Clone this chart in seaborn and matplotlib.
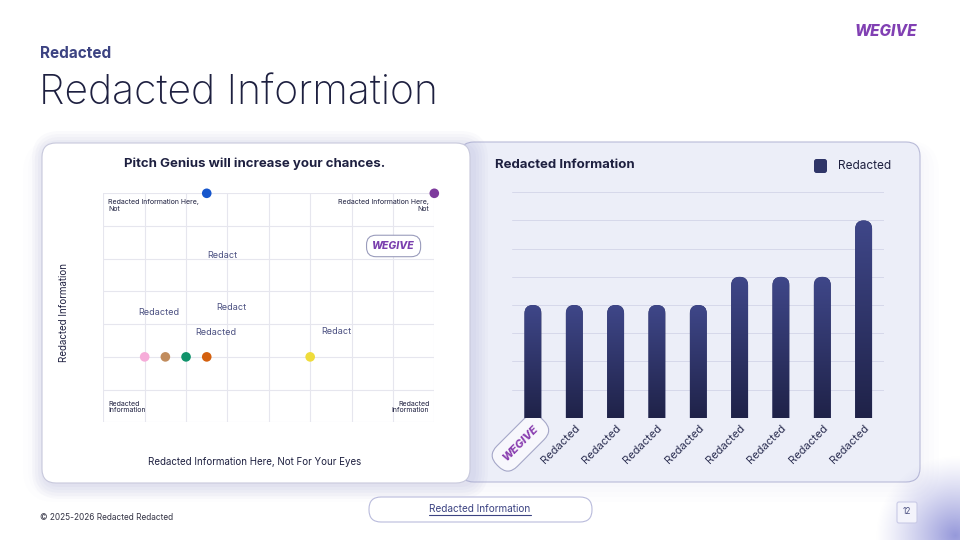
import numpy as np
import pandas as pd
import matplotlib
matplotlib.use("Agg")
import matplotlib.pyplot as plt
import seaborn as sns
from matplotlib.patches import FancyBboxPatch
from matplotlib.colors import LinearSegmentedColormap

# Data
scatter_x = [2.5, 8, 1, 1.5, 2, 2.5, 5]
scatter_y = [7, 7, 2, 2, 2, 2, 2]
scatter_colors = ['#1656cc', '#7d3a9c', '#f6acd9', '#c18c5d', '#10936b', '#d4600e', '#efdc3b']

note_text = ['Redact', 'Redacted', 'Redact', 'Redacted', 'Redact']
note_x = [2.87, 1.33, 3.09, 2.73, 5.63]
note_y = [5.1, 3.35, 3.5, 2.75, 2.78]

corner_text = ['Redacted Information Here,\nNot', 'Redacted Information Here,\nNot',
               'Redacted\nInformation', 'Redacted\nInformation']

bar_values = [4, 4, 4, 4, 4, 5, 5, 5, 7]
bar_labels = ['WEGIVE'] + ['Redacted'] * 8

W, H = 960, 540

sns.set_theme(style="white")
plt.rcParams['font.family'] = ['Inter', 'DejaVu Sans']
plt.rcParams['image.composite_image'] = False

fig = plt.figure(figsize=(9.6, 5.4), dpi=100, facecolor='white')

# background canvas in pixel units
bg = fig.add_axes([0, 0, 1, 1], zorder=0)
bg.set_xlim(0, W)
bg.set_ylim(H, 0)
bg.axis('off')


def rbox(x0, y0, x1, y1, r, **kw):
    p = FancyBboxPatch((x0, y0), x1 - x0, y1 - y0,
                       boxstyle=f"round,pad=0,rounding_size={r}", **kw)
    bg.add_patch(p)
    return p


# soft haze around cards
for i in range(4):
    d = 4 + i * 5
    rbox(42 - d, 150 - d * 0.5, 920 + d, 483 + d, 14 + d, facecolor='#d4d6f2',
         edgecolor='none', alpha=0.035)

# right card
rbox(460, 142, 920, 482, 14, facecolor='#eceef8', edgecolor='#b9bbd8', lw=0.8)
# left card shadow + card
for i in range(5):
    d = 2 + i * 3
    rbox(42 - d + 4, 143 - d + 2, 470 + d + 4, 483 + d + 2, 14 + d,
         facecolor='#9fa2d0', edgecolor='none', alpha=0.05)
rbox(42, 143, 470, 483, 14, facecolor='white', edgecolor='#c8c9dc', lw=0.8)

# purple blob bottom right
yy, xx = np.mgrid[0:200, 0:200]
dist = np.sqrt((xx - 115) ** 2 + (yy - 125) ** 2) / 80
alpha = np.clip(1 - dist, 0, 1) ** 1.2 * 0.9
blob = np.zeros((200, 200, 4))
blob[..., :3] = matplotlib.colors.to_rgb('#8a8dd6')
blob[..., 3] = alpha
bg.imshow(blob, extent=[840, 1040, 610, 410], zorder=1, interpolation='bilinear')
bg.set_xlim(0, W)
bg.set_ylim(H, 0)
bg.set_aspect('auto')

# header
bg.text(40, 53, 'Redacted', fontsize=11, fontweight='bold', color='#3c4382', va='center')
bg.text(39, 94, 'Redacted Information', fontsize=29.5, fontweight='light',
        color='#1e2040', va='center')
bg.text(886, 31, 'WEGIVE', fontsize=11, fontweight='heavy', fontstyle='italic',
        color='#8140b3', va='center', ha='center')

# footer
bg.text(40, 518, '© 2025-2026 Redacted Redacted', fontsize=6, color='#333344', va='center')
rbox(369, 497, 592, 522, 12, facecolor='white', edgecolor='#b9bbdc', lw=0.8)
bg.text(480, 509, 'Redacted Information', fontsize=7.2, color='#3c4382', va='center', ha='center')
bg.plot([429, 531], [515, 515], color='#3c4382', lw=0.8)
rbox(897, 502, 917, 523, 2, facecolor='#f3f3fb', edgecolor='#c9cae6', lw=0.8, zorder=2)
bg.text(907, 512, '12', fontsize=6, color='#4a4f80', va='center', ha='center', zorder=3)

# left card texts
bg.text(255, 164, 'Pitch Genius will increase your chances.', fontsize=9.5,
        fontweight='bold', color='#1e2040', va='center', ha='center')
bg.text(64, 312, 'Redacted Information', fontsize=7, rotation=90, color='#1e2040',
        va='center', ha='center')
bg.text(255, 462, 'Redacted Information Here, Not For Your Eyes', fontsize=7,
        color='#1e2040', va='center', ha='center')

# right card texts
bg.text(495, 165, 'Redacted Information', fontsize=9.5, fontweight='bold',
        color='#1e2040', va='center')
rbox(814, 159, 827, 173, 2.5, facecolor='#2f3568', edgecolor='none')
bg.text(838, 166, 'Redacted', fontsize=8.5, color='#1e2040', va='center')


def fpos(x0, y0, x1, y1):
    return [x0 / W, 1 - y1 / H, (x1 - x0) / W, (y1 - y0) / H]


# scatter chart
ax1 = fig.add_axes(fpos(103.3, 193.3, 434.3, 422.3), zorder=2)
ax1.set_facecolor('none')
df = pd.DataFrame({'x': scatter_x, 'y': scatter_y, 'c': range(len(scatter_x))})
sns.scatterplot(data=df, x='x', y='y', hue='c', palette=scatter_colors, s=48,
                linewidth=0, legend=False, ax=ax1, clip_on=False, zorder=3)
ax1.set_xlim(0, 8)
ax1.set_ylim(0, 7)
ax1.set_xticks(range(9))
ax1.set_yticks(range(8))
ax1.set_xticklabels([])
ax1.set_yticklabels([])
ax1.tick_params(length=0)
ax1.grid(True, color='#e6e6ee', lw=0.8)
for s in ax1.spines.values():
    s.set_visible(False)
ax1.set_xlabel('')
ax1.set_ylabel('')
for t, x, y in zip(note_text, note_x, note_y):
    ax1.text(x, y, t, fontsize=6.5, color='#4a4f80', ha='center', va='center')
ax1.text(0.015, 0.975, corner_text[0], transform=ax1.transAxes, fontsize=5,
         color='#1e2040', ha='left', va='top', linespacing=1.1)
ax1.text(0.985, 0.975, corner_text[1], transform=ax1.transAxes, fontsize=5,
         color='#1e2040', ha='right', va='top', linespacing=1.1)
ax1.text(0.015, 0.095, corner_text[2], transform=ax1.transAxes, fontsize=5,
         color='#1e2040', ha='left', va='top', linespacing=1.1)
ax1.text(0.985, 0.095, corner_text[3], transform=ax1.transAxes, fontsize=5,
         color='#1e2040', ha='right', va='top', linespacing=1.1)
ax1.text(0.877, 0.77, 'WEGIVE', transform=ax1.transAxes, fontsize=7.5,
         fontweight='heavy', fontstyle='italic', color='#7a3fae', ha='center', va='center',
         bbox=dict(boxstyle='round,pad=0.55,rounding_size=0.9', facecolor='white',
                   edgecolor='#9a9cbc', lw=0.8), zorder=5)

# bar chart
ax2 = fig.add_axes(fpos(512.3, 192.3, 884.3, 417.7), zorder=2)
ax2.set_facecolor('none')
sns.barplot(x=list(range(len(bar_values))), y=bar_values, width=0.41,
            color='#2f3568', ax=ax2)
ax2.set_xlim(-0.5, len(bar_values) - 0.5)
ax2.set_ylim(0, 8)
ax2.set_yticks(range(9))
ax2.set_yticklabels([])
ax2.grid(False)
for gy in ax2.get_yticks():
    ax2.axhline(gy, color='#d6d8ea', lw=0.7, zorder=0.5)
for s in ax2.spines.values():
    s.set_visible(False)
ax2.tick_params(length=0, pad=4)
ax2.set_xticks(range(len(bar_labels)))
ax2.set_xticklabels(bar_labels, rotation=45, ha='right', va='top',
                    rotation_mode='anchor', fontsize=8, color='#2a2d50')
lab0 = ax2.get_xticklabels()[0]
lab0.set_color('#8a3fb0')
lab0.set_fontweight('heavy')
lab0.set_fontstyle('italic')
lab0.set_fontsize(8)
lab0.set_bbox(dict(boxstyle='round,pad=0.85,rounding_size=1.2', facecolor='#f7f7fc',
                   edgecolor='#a5a7c8', lw=0.8))

# rounded-top gradient bars built on the seaborn bar geometry
bb = ax2.get_position()
asp = (bb.width * W / len(bar_values)) / (bb.height * H / 8)
cmap = LinearSegmentedColormap.from_list('bar', ['#1f2248', '#3f4789'])
grad = np.linspace(0, 1, 256).reshape(-1, 1)
for p in list(ax2.patches):
    x, w, h = p.get_x(), p.get_width(), p.get_height()
    p.set_visible(False)
    shape = FancyBboxPatch((x, -1), w, h + 1,
                           boxstyle=f"round,pad=0,rounding_size={w / 2}",
                           mutation_aspect=asp, facecolor='#2c3162', edgecolor='none',
                           transform=ax2.transData, zorder=2.5)
    ax2.add_patch(shape)
    im = ax2.imshow(grad, extent=[x, x + w, 0, h], origin='lower', cmap=cmap,
                    aspect='auto', zorder=3, interpolation='bilinear')
    im.set_clip_path(shape)
ax2.set_xlim(-0.5, len(bar_values) - 0.5)
ax2.set_ylim(0, 8)

fig.savefig('out.png', dpi=100, facecolor='white')
